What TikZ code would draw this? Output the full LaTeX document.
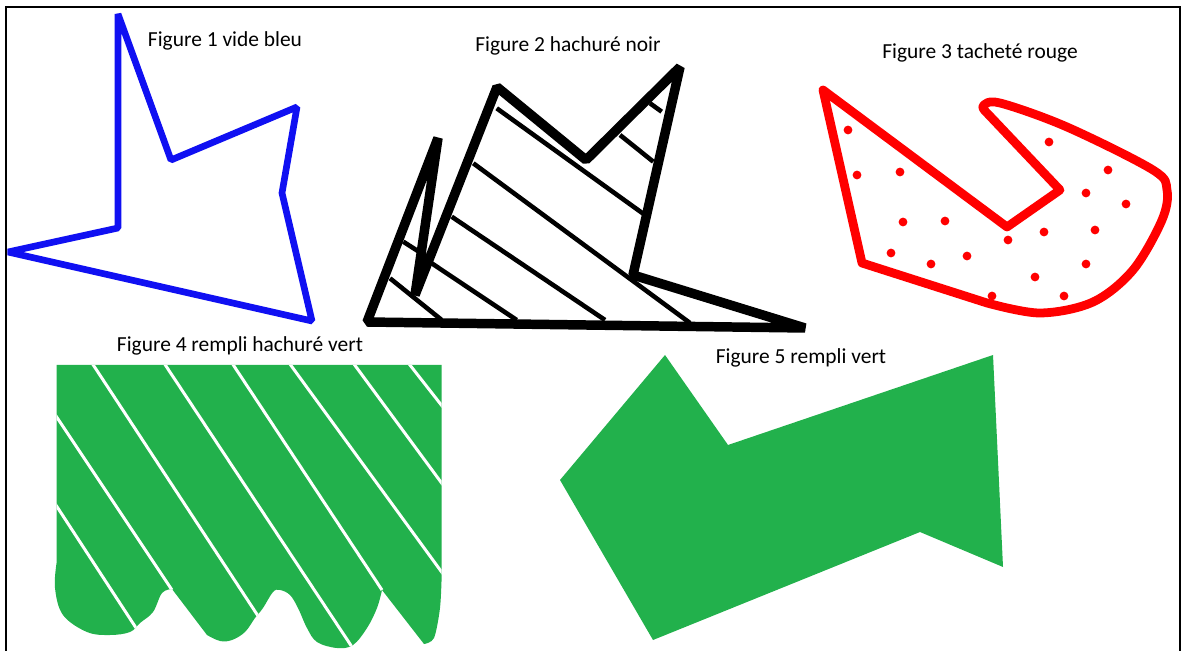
\documentclass[tikz,border=0pt]{standalone}
\usepackage{fontspec}
\setmainfont{Carlito}
\definecolor{bleuFig}{HTML}{1010F2}
\definecolor{rougeFig}{HTML}{FF0000}
\definecolor{vertFig}{HTML}{22B14C}
\tikzset{
  titre/.style={font=\fontsize{12.2}{14}\selectfont, inner sep=0pt},
  hachure/.style={line width=#1, line cap=butt},
}

\begin{document}
\begin{tikzpicture}[x=0.02cm,y=-0.02cm]
  \useasboundingbox (0,0) rectangle (1182,651);
  % cadre
  \draw[line width=1.1pt] (6,651) -- (6,7) -- (1180,7) -- (1180,651);

  % Figure 1 vide bleu
  \node[titre] (titre1) at (225,41) {Figure 1 vide bleu};
  \draw[bleuFig, line width=3.8pt, line join=bevel]
    (118,14) -- (171,160) -- (297,107) -- (282,193) -- (312,321)
    -- (8,252) -- (118,228) -- cycle;

  % Figure 2 hachure noir
  \node[titre] (titre2) at (568,46) {Figure 2 hachuré noir};
  \foreach \xa/\ya/\xb/\yb in {496.7/108.3/645/215, 473.3/163.3/690/323,
      451.7/216.7/605/320, 431.7/263.3/516.7/320, 390/278.3/441.7/320,
      403.3/241.7/426.7/256.7, 620/135/653.3/161.7, 650/103.3/661.7/111.7}
    \draw[hachure=2.6pt] (\xa,\ya) -- (\xb,\yb);
  \draw[line width=5.4pt, line join=bevel]
    (367,322) -- (438,138) -- (415,295) -- (497,87) -- (586,160)
    -- (680,67) -- (633,275) -- (805,328) -- cycle;

  % Figure 3 tachete rouge
  \node[titre] (titre3) at (980,53) {Figure 3 tacheté rouge};
  \draw[rougeFig, line width=5pt, line join=round, line cap=round]
    (823,90) -- (862,263)
    -- plot[smooth, tension=0.55] coordinates {(987,303) (1040,313) (1093,302)
       (1133,270) (1162,220) (1167,190) (1153,170) (1067,127) (1000,103)
       (983,106) (987,113)}
    -- (1060,190) -- (1007,227) -- cycle;
  \foreach \x/\y in {848/130, 857/175, 900/172, 903/222, 945/221, 891/253,
      931/264, 967/256, 1008/240, 1044/232, 1035/277, 992/296, 1049/142,
      1108/170, 1086/193, 1126/204, 1095/230, 1086/264, 1064/296}
    \fill[rougeFig] (\x,\y) circle (2.5pt);

  % Figure 4 rempli hachure vert
  \node[titre] (titre4) at (240,346) {Figure 4 rempli hachuré vert};
  \begin{scope}
    \clip (56.7,365) -- (441.7,365) -- (441.7,575)
      -- plot[smooth] coordinates {(441.7,575) (440,608) (434,638) (424,644)}
      -- (382,590)
      -- plot[smooth, tension=0.6] coordinates {(382,590) (377,608) (367,628)
         (353,645) (337,648) (317,642) (307,628) (298,608) (290,595) (280,590)
         (273,592) (263,608) (255,618) (245,632) (232,640) (220,641) (207,635)}
      -- (172,589)
      -- plot[smooth, tension=0.6] coordinates {(172,589) (162,593) (153,612)
         (140,623) (130,632) (110,635) (87,632) (63,615) (55,588) (56.7,562)}
      -- cycle;
    \fill[vertFig] (50,360) rectangle (450,651);
    \foreach \xa/\ya/\xb/\yb in {50/496/140/634, 50/407/172/590,
        90/360/262/622, 162/360/354/650, 230/360/382/590,
        287/360/446/578, 351/360/446/489, 406/360/446/411}
      \draw[white, hachure=1.7pt] (\xa,\ya) -- (\xb,\yb);
  \end{scope}

  % Figure 5 rempli vert
  \node[titre] (titre5) at (801,358) {Figure 5 rempli vert};
  \fill[vertFig] (665,355) -- (728,445) -- (993,355) -- (1003,567)
    -- (920,532) -- (653,640) -- (560,480) -- cycle;
\end{tikzpicture}
\end{document}
